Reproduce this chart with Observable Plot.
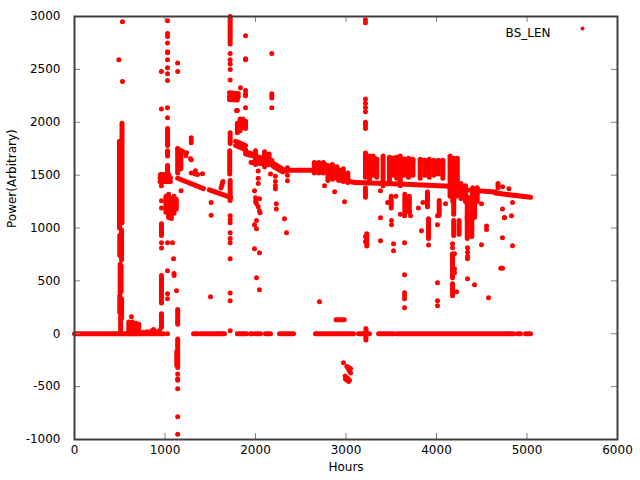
<!DOCTYPE html>
<html><head><meta charset="utf-8">
<script src="https://cdn.jsdelivr.net/npm/d3@7"></script>
<script src="https://cdn.jsdelivr.net/npm/@observablehq/plot@0.6"></script>
<style>body{margin:0;background:#fff}</style>
</head><body><div id="chart"></div>
<script>
const xTicks = [0, 1000, 2000, 3000, 4000, 5000, 6000];
const yTicks = [-1000, -500, 0, 500, 1000, 1500, 2000, 2500, 3000];
const seriesName = "BS_LEN";
const xTitle = "Hours";
const yTitle = "Power(Arbitrary)";

// dense runs of samples sitting on zero: [hoursStart, hoursEnd]
const zeroRuns = [[0,985],[1315,1360],[1392,1580],[1591,1658],[1800,1900],[1945,1967],[2000,2055],[2110,2166],[2265,2365],[2387,2420],[2663,3083],[3138,3260],[3360,3525],[3558,4785],[4796,4851],[4895,4928],[4984,5040]];

// dense runs of samples: [hours1, value1, hours2, value2]
const denseRuns = [
 [497,1000,497,1820],[525,1050,525,1990],[500,740,500,930],[520,700,520,980],[505,390,505,660],[515,400,515,640],[500,200,500,360],[520,150,520,330],[510,0,510,170],
 [600,0,600,110],[640,0,640,110],[680,0,680,100],[710,0,710,90],
 [1028,1780,1028,1940],[1028,1680,1028,1730],[1028,1520,1028,1590],
 [945,1440,1060,1440],[945,1475,1060,1475],[950,1505,1040,1505],
 [961,930,961,1040],[961,290,961,550],[961,60,961,190],
 [1010,1150,1010,1300],[1040,1100,1040,1320],[1070,1090,1070,1280],[1100,1140,1100,1300],[1125,1180,1125,1270],
 [1140,1520,1140,1750],[1175,1560,1175,1720],[1140,1750,1200,1720],
 [1140,1470,1425,1372],[1490,1360,1724,1290],[1620,1380,1640,1440],
 [1140,90,1140,230],[1140,-320,1140,-50],[1130,-300,1130,-170],
 [1715,1510,1715,1730],[1720,1800,1720,1900],[1720,1260,1720,1450],[1720,2740,1720,3000],
 [1712,2280,1810,2270],[1712,2245,1810,2240],[1712,2215,1800,2210],
 [1800,1900,1800,1990],[1830,1920,1830,2030],[1860,1950,1860,2030],[1890,1940,1890,2010],
 [1780,1820,1890,1780],[1780,1780,1890,1740],
 [1890,1720,2000,1690],[1890,1700,2180,1640],[1950,1620,2180,1600],[2000,1660,2150,1620],
 [2000,1600,2000,1730],[2100,1580,2100,1720],[2150,1600,2150,1700],
 [2180,1620,2330,1540],[2200,1580,2300,1530],[2330,1545,2660,1545],
 [2650,1520,2650,1620],[2700,1520,2700,1620],[2750,1520,2750,1620],[2650,1610,2770,1600],
 [2800,1450,2800,1590],[2850,1460,2850,1600],[2900,1470,2900,1580],
 [2920,1450,2920,1550],[2970,1440,2970,1560],[3020,1430,3020,1520],[2920,1460,3100,1430],
 [3100,1430,3600,1415],[3600,1415,4150,1395],[4150,1370,4650,1340],[4650,1330,5040,1290],[4680,1380,4680,1420],
 [2890,132,2980,132],[3010,-310,3050,-330],[3030,-340,3050,-370],[2990,-400,3040,-440],[2995,-430,3030,-450],
 [3220,-60,3220,50],[3230,830,3230,945],[3215,1480,3215,1710],[3215,1290,3215,1380],
 [3260,1460,3260,1680],[3300,1500,3300,1680],[3340,1480,3340,1650],[3260,1670,3340,1650],
 [3410,1400,3410,1680],
 [3480,1450,3480,1670],[3520,1500,3520,1660],[3560,1470,3560,1670],[3600,1400,3600,1680],[3480,1660,3600,1660],
 [3640,1500,3640,1650],[3690,1480,3690,1660],[3740,1500,3740,1650],[3640,1650,3740,1640],
 [3820,1470,3820,1650],[3870,1500,3870,1640],[3920,1480,3920,1650],[3820,1640,3920,1630],
 [3970,1500,3970,1640],[4020,1510,4020,1640],[4070,1470,4070,1640],[3970,1630,4070,1630],
 [4150,1300,4150,1680],[4190,1330,4190,1660],[4230,1350,4230,1660],
 [3500,1190,3500,1300],[3650,1140,3650,1320],[3700,1150,3700,1300],[3900,1200,3900,1340],[4030,1120,4030,1260],[4190,1130,4190,1300],[4340,1090,4340,1290],[4390,1100,4390,1300],[4420,1100,4420,1280],
 [3912,900,3912,1087],[4190,930,4190,1070],[4250,940,4250,1070],[4340,900,4340,1115],[4390,920,4390,1100],
 [4180,1250,4180,1520],[4220,1300,4220,1480],[4270,1280,4270,1420],[4320,1250,4320,1400],[4400,1220,4400,1380],[4450,1250,4450,1380],
 [4177,530,4177,756],[4177,360,4177,473],[4710,620,4730,620]
];

// isolated samples: [hours, value]
const samples = [
 [490,2590],[530,2950],[530,2385],
 [630,160],[760,15],[800,20],[850,25],[873,40],[900,20],[940,30],
 [1028,2960],[1028,2840],[1028,2810],[1028,2750],[1028,2667],[1028,2657],[1028,2590],[1028,2515],[1028,2458],[1028,2395],[960,2480],[960,2125],[1028,2137],[1028,2043],
 [960,1400],[961,1258],[961,1190],[961,860],[961,810],
 [1028,860],[1083,860],[1028,595],[1094,710],[1100,570],[1100,550],[1127,406],[1028,378],[1028,330],[1028,0],
 [1140,-380],[1140,-425],[1140,-440],[1140,-520],[1140,-785],[1140,-950],
 [1140,2560],[1140,2480],[1178,1352],
 [1290,1806],[1290,1830],[1290,1853],[1290,1645],[1238,1711],[1230,1683],[1282,1655],[1337,1541],[1290,1520],[1330,1510],[1360,1505],[1414,1513],
 [1160,1590],[1160,1617],
 [1510,1240],[1510,1120],[1503,350],
 [1720,2650],[1720,2590],[1720,2550],[1720,2500],[1720,2400],[1790,2110],
 [1720,1115],[1720,1080],[1720,1050],[1720,955],[1720,900],[1720,860],[1720,710],[1720,385],[1720,312],[1720,28],
 [1890,2818],[1890,2600],[1890,2590],[1890,2300],[1890,2270],[1890,2250],[1890,2137],[1834,2326],[1800,2110],
 [2180,2650],[2180,2270],[2180,2250],[2180,2230],[2180,2137],
 [1989,1352],[2000,1286],[2000,1250],[2011,1230],[2030,1200],[2044,1160],[2044,1277],[2050,1145],[2011,1070],[1989,1030],[2011,993],[1989,804],[2044,766],[2011,530],[2044,416],[2030,1420],[2030,1470],[2030,1540],
 [2220,1490],[2220,1440],[2220,1400],[2220,1370],[2230,1230],[2230,1180],[2166,1510],
 [2353,1447],[2353,1500],[2353,1570],[2320,1087],[2343,955],[2707,302],
 [2984,1248],[2874,1343],[2763,1400],[2972,-274],
 [3215,2970],[3215,2940],[3215,2220],[3215,2180],[3215,2140],[3215,2100],[3215,2000],[3215,1980],[3215,1960],[3215,1940],[3215,870],[3215,920],
 [3381,1097],[3381,880],[3381,1352],
 [3503,1070],[3503,1030],[3647,1115],[3713,1115],[3834,975],[3912,840],[4011,1115],[4011,1030],[4553,1020],[4553,985],[4751,1097],[4829,1115],
 [3525,850],[3525,785],[3647,860],[4177,850],[4177,813],[4199,756],[4199,615],[4199,577],[4221,397],
 [4343,813],[4343,770],[4343,730],[4343,710],[4343,520],[4420,463],[4497,842],[4575,340],[4729,907],[4840,832],
 [3647,558],[3647,388],[3647,360],[3647,330],[3647,246],[4011,482],[4011,312],[4011,265],
 [4497,1230],[4729,1180],[4751,1100],[4840,1240],[4730,1390],[4800,1370],[4870,1310],
 [3460,1240],[3600,1130],[3800,1190],[3850,1240],[4100,1230],[3550,1300]
];

const RED = "#ff0000";
const runs = zeroRuns.map(([a, b]) => [a, 0, b, 0]).concat(denseRuns);
const plotH = 480 - 16 - 41, plotW = 640 - 74 - 23;
const fmt = d => String(d);

const chart = Plot.plot({
  width: 640, height: 480,
  marginLeft: 74, marginRight: 23, marginTop: 16, marginBottom: 41,
  x: {domain: [0, 6000]},
  y: {domain: [-1000, 3000]},
  style: {fontFamily: "DejaVu Sans", fontSize: "12px", color: "#000", background: "#fff"},
  marks: [
    Plot.link(runs, {x1: d => d[0], y1: d => d[1], x2: d => d[2], y2: d => d[3], stroke: RED, strokeWidth: 5, strokeLinecap: "round"}),
    Plot.dot(samples, {x: d => d[0], y: d => d[1], r: 2.5, fill: RED}),
    Plot.tickX(xTicks, {x: d => d, stroke: "#808080", insetTop: plotH - 6}),
    Plot.tickX(xTicks, {x: d => d, stroke: "#808080", insetBottom: plotH - 6}),
    Plot.tickY(yTicks, {y: d => d, stroke: "#808080", insetRight: plotW - 6}),
    Plot.tickY(yTicks, {y: d => d, stroke: "#808080", insetLeft: plotW - 6}),
    Plot.frame({stroke: "#404040", strokeWidth: 2}),
    Plot.axisX({ticks: xTicks, tickSize: 0, tickPadding: 6, label: null, tickFormat: fmt}),
    Plot.axisY({ticks: yTicks, tickSize: 0, tickPadding: 14, label: null, tickFormat: fmt}),
    Plot.text([xTitle], {frameAnchor: "bottom", dy: 31}),
    Plot.text([yTitle], {frameAnchor: "left", dx: -62, rotate: -90}),
    Plot.text([seriesName], {frameAnchor: "top-right", dx: -67, dy: 12, textAnchor: "end"}),
    Plot.dot([seriesName], {frameAnchor: "top-right", dx: -35, dy: 12, r: 2, fill: RED})
  ]
});
document.getElementById("chart").appendChild(chart);
</script>
</body></html>
